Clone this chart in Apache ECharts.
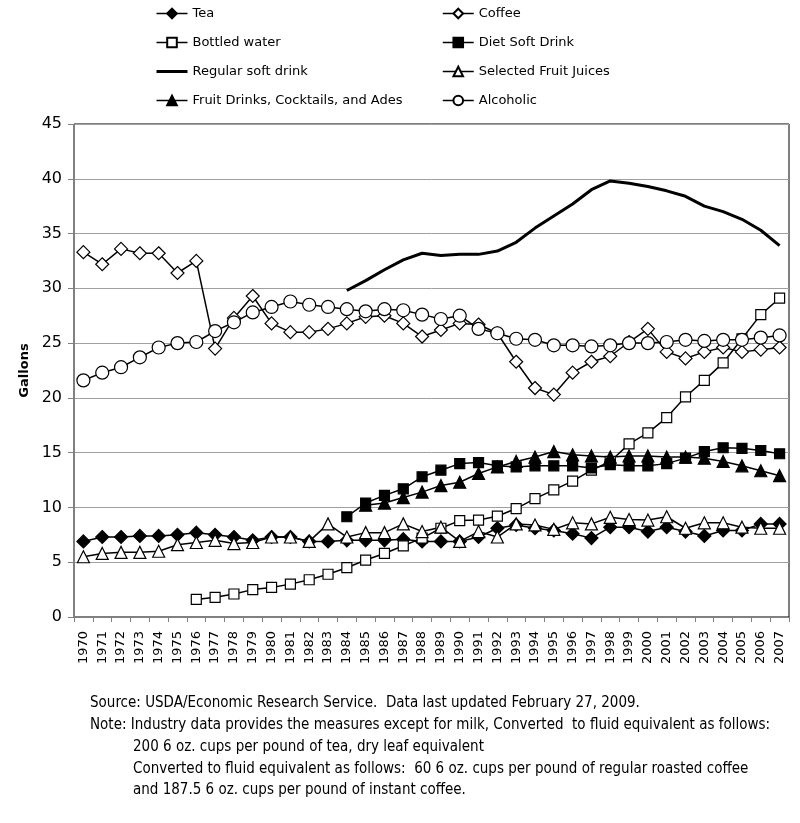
<!DOCTYPE html>
<html>
<head>
<meta charset="utf-8">
<script src="https://cdn.jsdelivr.net/npm/echarts@6/dist/echarts.min.js"></script>
<style>html,body{margin:0;padding:0;background:#fff}#c{width:800px;height:823px}</style>
</head>
<body>
<div id="c"></div>
<script>
var years = ['1970','1971','1972','1973','1974','1975','1976','1977','1978','1979','1980','1981','1982','1983','1984','1985','1986','1987','1988','1989','1990','1991','1992','1993','1994','1995','1996','1997','1998','1999','2000','2001','2002','2003','2004','2005','2006','2007'];
var yTicks = { min: 0, max: 45, interval: 5 };

var tea = [6.9,7.3,7.3,7.4,7.4,7.5,7.7,7.5,7.3,7.0,7.3,7.3, 6.9,6.9,7.0,7.0,7.0,7.1,6.9,6.9,6.9,7.3,8.1,8.4,8.1, 7.9,7.6,7.2,8.2,8.2,7.8,8.2,7.8,7.4,7.9,7.9,8.5,8.5];
var coffee = [33.3,32.2,33.6,33.2,33.2,31.4,32.5,24.5,27.3,29.3,26.8,26.0, 26.0,26.3,26.8,27.4,27.5,26.8,25.6,26.2,26.8,26.7,25.9,23.3,20.9, 20.3,22.3,23.3,23.8,25.1,26.3,24.2,23.6,24.2,24.6,24.2,24.4,24.6];
var bottledWater = [null,null,null,null,null,null,1.6,1.8,2.1,2.5,2.7,3.0, 3.4,3.9,4.5,5.2,5.8,6.5,7.2,8.1,8.8,8.85,9.2,9.9,10.8, 11.6,12.4,13.4,14.2,15.8,16.8,18.2,20.1,21.6,23.2,25.4,27.6,29.1];
var dietSoft = [null,null,null,null,null,null,null,null,null,null,null,null,null,null, 9.15,10.4,11.1,11.7,12.8,13.4,14.0,14.1,13.8,13.7,13.8, 13.8,13.8,13.6,13.9,13.8,13.8,14.0,14.5,15.1,15.45,15.4,15.2,14.9];
var regularSoft = [null,null,null,null,null,null,null,null,null,null,null,null,null,null, 29.8,30.7,31.7,32.6,33.2,33.0,33.1,33.1,33.4,34.2,35.5, 36.6,37.7,39.0,39.8,39.6,39.3,38.9,38.4,37.5,37.0,36.3,35.3,33.9];
var fruitJuices = [5.5,5.8,5.9,5.9,6.0,6.6,6.8,7.0,6.7,6.8,7.3,7.3, 6.9,8.5,7.3,7.7,7.7,8.5,7.8,8.2,6.9,7.8,7.3,8.5,8.4, 8.0,8.6,8.5,9.1,8.9,8.85,9.15,8.1,8.6,8.6,8.2,8.1,8.1];
var fruitDrinks = [null,null,null,null,null,null,null,null,null,null,null,null,null,null,null, 10.2,10.4,10.9,11.4,12.0,12.3,13.1,13.7,14.2,14.6, 15.1,14.8,14.7,14.6,14.7,14.7,14.6,14.6,14.5,14.2,13.8,13.35,12.9];
var alcoholic = [21.6,22.3,22.8,23.7,24.6,25.0,25.1,26.1,26.9,27.8,28.3,28.8, 28.5,28.3,28.1,27.9,28.1,28.0,27.6,27.2,27.5,26.3,25.9,25.4,25.3, 24.8,24.8,24.7,24.8,25.0,25.0,25.1,25.3,25.2,25.3,25.3,25.5,25.7];

var notes = [
  'Source: USDA/Economic Research Service.  Data last updated February 27, 2009.',
  'Note: Industry data provides the measures except for milk, Converted  to fluid equivalent as follows:',
  '200 6 oz. cups per pound of tea, dry leaf equivalent',
  'Converted to fluid equivalent as follows:  60 6 oz. cups per pound of regular roasted coffee',
  'and 187.5 6 oz. cups per pound of instant coffee.'
];

var FONT = 'DejaVu Sans, Verdana, sans-serif';
var NOTE_FONT = '"Liberation Sans Narrow", "DejaVu Sans Condensed", "Arial Narrow", sans-serif';

function mk(name, data, symbol, size, fill, width) {
  return {
    name: name, type: 'line', data: data,
    symbol: symbol, symbolSize: size,
    showSymbol: symbol !== 'none',
    connectNulls: false,
    lineStyle: { color: '#000', width: width || 1.5 },
    itemStyle: { color: fill, borderColor: fill === 'transparent' ? 'transparent' : '#000', borderWidth: fill === 'transparent' ? 0 : 1.2 },
    emphasis: { disabled: true },
    animation: false
  };
}

var series = [
  mk('Tea', tea, 'diamond', 13, '#000'),
  mk('Coffee', coffee, 'diamond', 13, '#fff'),
  mk('Bottled water', bottledWater, 'rect', 10, '#fff'),
  mk('Diet Soft Drink', dietSoft, 'rect', 10, '#000'),
  mk('Regular soft drink', regularSoft, 'none', 0, 'transparent', 3),
  mk('Selected Fruit Juices', fruitJuices, 'triangle', 12, '#fff'),
  mk('Fruit Drinks, Cocktails, and Ades', fruitDrinks, 'triangle', 12, '#000'),
  mk('Alcoholic', alcoholic, 'circle', 13, '#fff')
];

function li(name, w) { return { name: name, lineStyle: { width: w || 1.5, color: '#000' } }; }

var legendCommon = {
  orient: 'vertical', top: 7, padding: 0, itemWidth: 31, itemHeight: 12, itemGap: 16,
  textStyle: { fontFamily: FONT, fontSize: 13, color: '#000' },
  selectedMode: false
};

var graphics = notes.map(function (t, i) {
  var ys = [703, 725, 747, 769, 790];
  return {
    type: 'text', x: i < 2 ? 90 : 133, y: ys[i],
    style: { text: t, font: '15px ' + NOTE_FONT, fill: '#000', verticalAlign: 'middle', textVerticalAlign: 'middle' }
  };
});

var chart = echarts.init(document.getElementById('c'), null, { renderer: 'canvas' });
chart.setOption({
  animation: false,
  backgroundColor: '#fff',
  legend: [
    Object.assign({ left: 155, data: [li('Tea'), li('Bottled water'), li('Regular soft drink', 3), li('Fruit Drinks, Cocktails, and Ades')] }, legendCommon),
    Object.assign({ left: 442, data: [li('Coffee'), li('Diet Soft Drink'), li('Selected Fruit Juices'), li('Alcoholic')] }, legendCommon)
  ],
  grid: { left: 74, right: 11, top: 124, bottom: 206, show: true, borderColor: '#000', borderWidth: 1, containLabel: false },
  xAxis: {
    type: 'category', data: years, boundaryGap: true,
    axisLine: { lineStyle: { color: '#808080', width: 1 } },
    axisTick: { show: true, interval: 0, length: 5, lineStyle: { color: '#808080' } },
    axisLabel: { interval: 0, rotate: 90, margin: 14, fontFamily: FONT, fontSize: 13, color: '#000' },
    splitLine: { show: false }
  },
  yAxis: {
    type: 'value', min: yTicks.min, max: yTicks.max, interval: yTicks.interval,
    name: 'Gallons', nameLocation: 'middle', nameGap: 43, nameRotate: 90,
    nameTextStyle: { fontFamily: FONT, fontSize: 13, fontWeight: 'bold', color: '#000' },
    axisLine: { show: true, lineStyle: { color: '#808080', width: 1 } },
    axisTick: { show: true, length: 6, lineStyle: { color: '#808080' } },
    axisLabel: { margin: 12, fontFamily: FONT, fontSize: 16, color: '#000' },
    splitLine: { show: true, lineStyle: { color: '#a0a0a0', width: 1 } }
  },
  series: series,
  graphic: graphics
});
</script>
</body>
</html>
